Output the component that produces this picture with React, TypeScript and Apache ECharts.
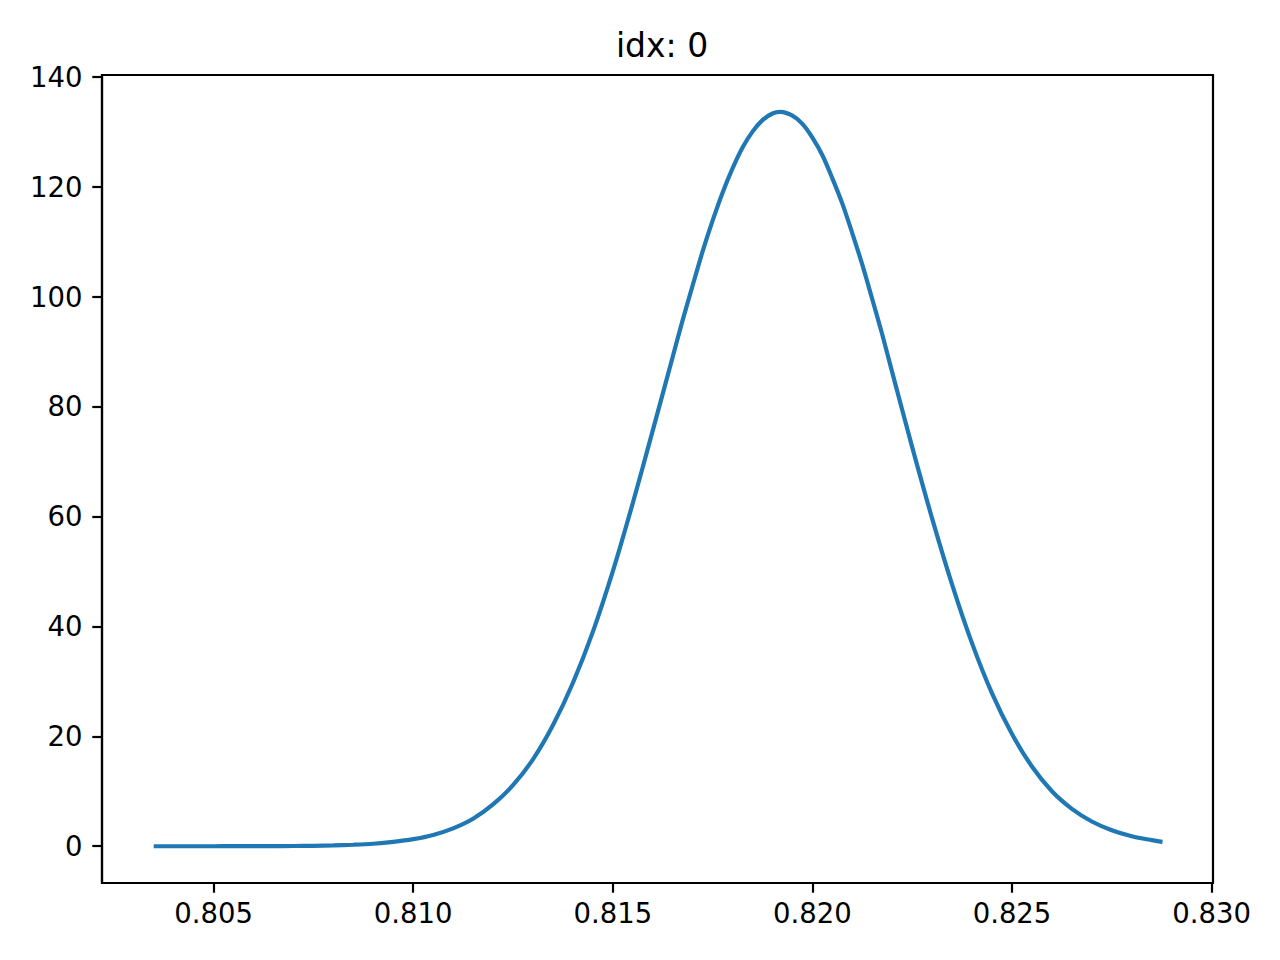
import React, { useEffect, useRef } from "react";
import * as echarts from "echarts";

const titleText = "idx: 0";

const xValues = [
  0.8035, 0.804, 0.8045, 0.805, 0.8055, 0.806, 0.8065, 0.807, 0.8075, 0.808,
  0.8085, 0.809, 0.8095, 0.81, 0.8105, 0.811, 0.8115, 0.812, 0.8125, 0.813,
  0.8135, 0.814, 0.8145, 0.815, 0.8155, 0.816, 0.8165, 0.81675, 0.817, 0.81725,
  0.8175, 0.81775, 0.818, 0.81825, 0.8185, 0.81875, 0.819, 0.8192, 0.8195,
  0.81975, 0.82, 0.82025, 0.8205, 0.82075, 0.821, 0.82125, 0.8215, 0.82175,
  0.822, 0.8225, 0.823, 0.8235, 0.824, 0.8245, 0.825, 0.8255, 0.826, 0.8265,
  0.827, 0.8275, 0.828, 0.8285, 0.82877,
];

const yValues = [
  0.0, 0.0, 0.0, 0.0, 0.01, 0.01, 0.02, 0.04, 0.08, 0.15,
  0.27, 0.45, 0.78, 1.28, 2.05, 3.25, 5.0, 7.6, 11.1, 15.8,
  22.0, 29.7, 39.0, 50.0, 62.4, 75.6, 89.0, 95.7, 102.0, 108.2,
  113.8, 118.9, 123.3, 127.1, 130.0, 132.1, 133.3, 133.6, 132.9,
  131.4, 128.9, 125.7, 121.5, 116.9, 111.5, 105.8, 99.5, 93.1,
  86.2, 72.6, 59.6, 47.6, 36.9, 27.8, 20.4, 14.5, 10.0, 6.8,
  4.5, 2.9, 1.8, 1.1, 0.8,
];

const xTicks = [0.805, 0.81, 0.815, 0.82, 0.825, 0.83];
const yTicks = [0, 20, 40, 60, 80, 100, 120, 140];

const xMin = 0.802205;
const xMax = 0.830035;
const yMin = -6.69;
const yMax = 140.3;

export default function App() {
  const ref = useRef<HTMLDivElement>(null);
  useEffect(() => {
    if (!ref.current) return;
    const chart = echarts.init(ref.current, undefined, { renderer: "svg" });
    const font = "DejaVu Sans";
    chart.setOption({
      animation: false,
      backgroundColor: "#ffffff",
      title: {
        text: titleText,
        left: 657,
        top: 24,
        textAlign: "center",
        textStyle: {
          fontFamily: font,
          fontSize: 33,
          fontWeight: "normal",
          color: "#000",
        },
      },
      grid: {
        left: 102,
        right: 67,
        top: 75,
        bottom: 77,
        show: true,
        borderColor: "#000",
        borderWidth: 2.2,
        backgroundColor: "transparent",
      },
      xAxis: {
        type: "value",
        min: xMin,
        max: xMax,
        axisLine: { show: true, onZero: false, lineStyle: { color: "#000", width: 2.2 } },
        axisTick: {
          show: true,
          inside: false,
          length: 9.7,
          customValues: xTicks,
          lineStyle: { color: "#000", width: 2.2 },
        },
        axisLabel: {
          show: true,
          margin: 16,
          customValues: xTicks,
          formatter: (v: number) => v.toFixed(3),
          fontFamily: font,
          fontSize: 27.5,
          color: "#000",
        },
        splitLine: { show: false },
      },
      yAxis: {
        type: "value",
        min: yMin,
        max: yMax,
        axisLine: { show: true, onZero: false, lineStyle: { color: "#000", width: 2.2 } },
        axisTick: {
          show: true,
          inside: false,
          length: 9.7,
          customValues: yTicks,
          lineStyle: { color: "#000", width: 2.2 },
        },
        axisLabel: {
          show: true,
          margin: 19.5,
          customValues: yTicks,
          formatter: (v: number) => String(Math.round(v)),
          fontFamily: font,
          fontSize: 27.5,
          color: "#000",
        },
        splitLine: { show: false },
      },
      series: [
        {
          type: "line",
          data: xValues.map((x, i) => [x, yValues[i]]),
          showSymbol: false,
          smooth: 0.3,
          lineStyle: { color: "#1f77b4", width: 4.2, cap: "butt" },
          itemStyle: { color: "#1f77b4" },
        },
      ],
    });
    return () => chart.dispose();
  }, []);
  return (
    <div
      ref={ref}
      style={{ position: "fixed", left: 0, top: 0, width: 1280, height: 960 }}
    />
  );
}
